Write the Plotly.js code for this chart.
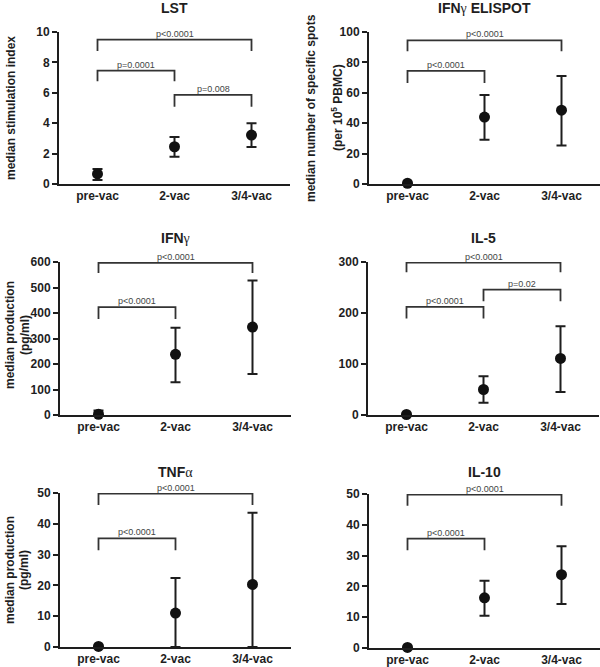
<!DOCTYPE html>
<html><head><meta charset="utf-8">
<script src="https://cdn.plot.ly/plotly-3.0.1.min.js"></script>
<style>html,body{margin:0;padding:0;background:#fff}#chart{width:600px;height:667px}</style>
</head><body><div id="chart"></div>
<script>
// ---------- data ----------
const categories = ['pre-vac', '2-vac', '3/4-vac'];

const lstMedian = [0.66, 2.45, 3.22];
const lstUpper  = [0.98, 3.10, 4.00];
const lstLower  = [0.26, 1.79, 2.43];
const lstBracketFrom  = [0, 0, 1];
const lstBracketTo    = [2, 1, 2];
const lstBracketTop   = [9.5, 7.46, 5.86];
const lstBracketLeg   = [8.75, 6.76, 5.08];
const lstBracketLabel = ['p<0.0001', 'p=0.0001', 'p=0.008'];

const elispotMedian = [0.5, 44.0, 48.6];
const elispotUpper  = [0.5, 58.6, 71.1];
const elispotLower  = [0.5, 29.1, 25.4];
const elispotBracketFrom  = [0, 0];
const elispotBracketTo    = [2, 1];
const elispotBracketTop   = [94.5, 74.4];
const elispotBracketLeg   = [87.3, 66.5];
const elispotBracketLabel = ['p<0.0001', 'p<0.0001'];

const ifngMedian = [3, 238, 345];
const ifngUpper  = [18, 342, 527];
const ifngLower  = [0, 128, 161];
const ifngBracketFrom  = [0, 0];
const ifngBracketTo    = [2, 1];
const ifngBracketTop   = [597, 423];
const ifngBracketLeg   = [557, 376];
const ifngBracketLabel = ['p<0.0001', 'p<0.0001'];

const il5Median = [1, 50, 111];
const il5Upper  = [1, 76, 174];
const il5Lower  = [1, 24, 45];
const il5BracketFrom  = [0, 1, 0];
const il5BracketTo    = [2, 2, 1];
const il5BracketTop   = [299, 246, 212];
const il5BracketLeg   = [280, 223, 189];
const il5BracketLabel = ['p<0.0001', 'p=0.02', 'p<0.0001'];

const tnfMedian = [0.2, 11.0, 20.3];
const tnfUpper  = [0.2, 22.4, 43.6];
const tnfLower  = [0.2, 0, 0];
const tnfBracketFrom  = [0, 0];
const tnfBracketTo    = [2, 1];
const tnfBracketTop   = [49.8, 35.3];
const tnfBracketLeg   = [46.1, 31.4];
const tnfBracketLabel = ['p<0.0001', 'p<0.0001'];

const il10Median = [0.2, 16.3, 23.8];
const il10Upper  = [0.2, 21.8, 33.0];
const il10Lower  = [0.2, 10.5, 14.3];
const il10BracketFrom  = [0, 0];
const il10BracketTo    = [2, 1];
const il10BracketTop   = [49.8, 35.5];
const il10BracketLeg   = [46.2, 31.7];
const il10BracketLabel = ['p<0.0001', 'p<0.0001'];

const greekStyle = "font-family:'Liberation Serif';font-weight:normal";
const panelTitles = [
  'LST',
  'IFN<span style="' + greekStyle + '">γ</span> ELISPOT',
  'IFN<span style="' + greekStyle + '">γ</span>',
  'IL-5',
  'TNF<span style="' + greekStyle + '">α</span>',
  'IL-10'
];
const yTitleLines = [
  ['median stimulation index'],
  ['median number of specific spots', '(per 10<sup>5</sup> PBMC)'],
  ['median production', '(pg/ml)'],
  [],
  ['median production', '(pg/ml)'],
  []
];
const yMaxes = [10, 100, 600, 300, 50, 50];
const yDticks = [2, 20, 100, 100, 10, 10];

// ---------- layout geometry (pixels) ----------
const W = 600, H = 667, PW = 231;
const boxes = [ // left, top, bottom
  [59, 32, 184], [369, 32, 184],
  [60, 262, 415], [368, 262, 415],
  [60, 493, 647], [369, 494, 648]
];
const titleY = [8, 8, 238, 238, 472, 472];
const yTitleX = [[11], [311, 337], [10, 25], [], [10, 24], []];
const yTitleCY = [108, 108, 335, 0, 570, 0];

const series = [
  [lstMedian, lstUpper, lstLower, lstBracketFrom, lstBracketTo, lstBracketTop, lstBracketLeg, lstBracketLabel],
  [elispotMedian, elispotUpper, elispotLower, elispotBracketFrom, elispotBracketTo, elispotBracketTop, elispotBracketLeg, elispotBracketLabel],
  [ifngMedian, ifngUpper, ifngLower, ifngBracketFrom, ifngBracketTo, ifngBracketTop, ifngBracketLeg, ifngBracketLabel],
  [il5Median, il5Upper, il5Lower, il5BracketFrom, il5BracketTo, il5BracketTop, il5BracketLeg, il5BracketLabel],
  [tnfMedian, tnfUpper, tnfLower, tnfBracketFrom, tnfBracketTo, tnfBracketTop, tnfBracketLeg, tnfBracketLabel],
  [il10Median, il10Upper, il10Lower, il10BracketFrom, il10BracketTo, il10BracketTop, il10BracketLeg, il10BracketLabel]
];

const FONT = 'Liberation Sans, Arial, Helvetica, sans-serif';
const INK = '#1e1e1e';
const xIdx = [0, 1, 2];

const traces = [];
const annotations = [];
const layout = {
  width: W, height: H,
  margin: {l: 0, r: 0, t: 0, b: 0},
  paper_bgcolor: '#fff', plot_bgcolor: '#fff',
  showlegend: false,
  font: {family: FONT, color: INK}
};

series.forEach((s, i) => {
  const n = i + 1;
  const xa = 'x' + (n === 1 ? '' : n), ya = 'y' + (n === 1 ? '' : n);
  const [med, up, lo, bf, bt, btop, bleg, blab] = s;
  const [left, top, bottom] = boxes[i];

  // brackets
  const bx = [], by = [];
  bf.forEach((f, k) => {
    bx.push(f, f, bt[k], bt[k], null);
    by.push(bleg[k], btop[k], btop[k], bleg[k], null);
    annotations.push({
      xref: xa, yref: ya, x: (f + bt[k]) / 2, y: btop[k],
      text: blab[k], showarrow: false, yanchor: 'middle', yshift: 6,
      font: {family: FONT, size: 9, color: '#444'}
    });
  });
  traces.push({
    type: 'scatter', mode: 'lines', x: bx, y: by, xaxis: xa, yaxis: ya,
    line: {color: '#333', width: 1.8}, hoverinfo: 'skip', cliponaxis: false
  });

  // medians with ranges
  traces.push({
    type: 'scatter', mode: 'markers', x: xIdx, y: med, xaxis: xa, yaxis: ya,
    marker: {size: 11, color: '#111'},
    error_y: {
      type: 'data', symmetric: false,
      array: up.map((u, k) => u - med[k]),
      arrayminus: lo.map((l, k) => med[k] - l),
      color: INK, thickness: 2, width: 5
    },
    cliponaxis: false
  });

  const xKey = 'xaxis' + (n === 1 ? '' : n), yKey = 'yaxis' + (n === 1 ? '' : n);
  layout[xKey] = {
    domain: [left / W, (left + PW) / W],
    anchor: ya, range: [-0.5, 2.5],
    tickvals: xIdx, ticktext: categories,
    ticks: '',
    showline: true, linewidth: 2, linecolor: INK,
    showgrid: false, zeroline: false, fixedrange: true,
    tickfont: {family: FONT, size: 12, weight: 'bold', color: INK}
  };
  layout[yKey] = {
    domain: [1 - bottom / H, 1 - top / H],
    anchor: xa, range: [0, yMaxes[i]], dtick: yDticks[i],
    ticks: 'outside', ticklen: 5, tickwidth: 2, tickcolor: INK,
    showline: true, linewidth: 2, linecolor: INK,
    showgrid: false, zeroline: false, fixedrange: true,
    tickfont: {family: FONT, size: 12, weight: 'bold', color: INK}
  };

  // panel title
  annotations.push({
    xref: xa, yref: 'paper', x: 1, y: 1 - titleY[i] / H, yanchor: 'middle',
    text: panelTitles[i], showarrow: false,
    font: {family: FONT, size: 14, weight: 'bold', color: INK}
  });

  // y-axis title lines
  yTitleLines[i].forEach((t, k) => {
    annotations.push({
      xref: 'paper', yref: 'paper', x: yTitleX[i][k] / W, y: 1 - yTitleCY[i] / H,
      xanchor: 'center', yanchor: 'middle', textangle: -90,
      text: t, showarrow: false,
      font: {family: FONT, size: 12, weight: 'bold', color: INK}
    });
  });
});

layout.annotations = annotations;
Plotly.newPlot('chart', traces, layout, {displayModeBar: false, staticPlot: true});
</script>
</body></html>
